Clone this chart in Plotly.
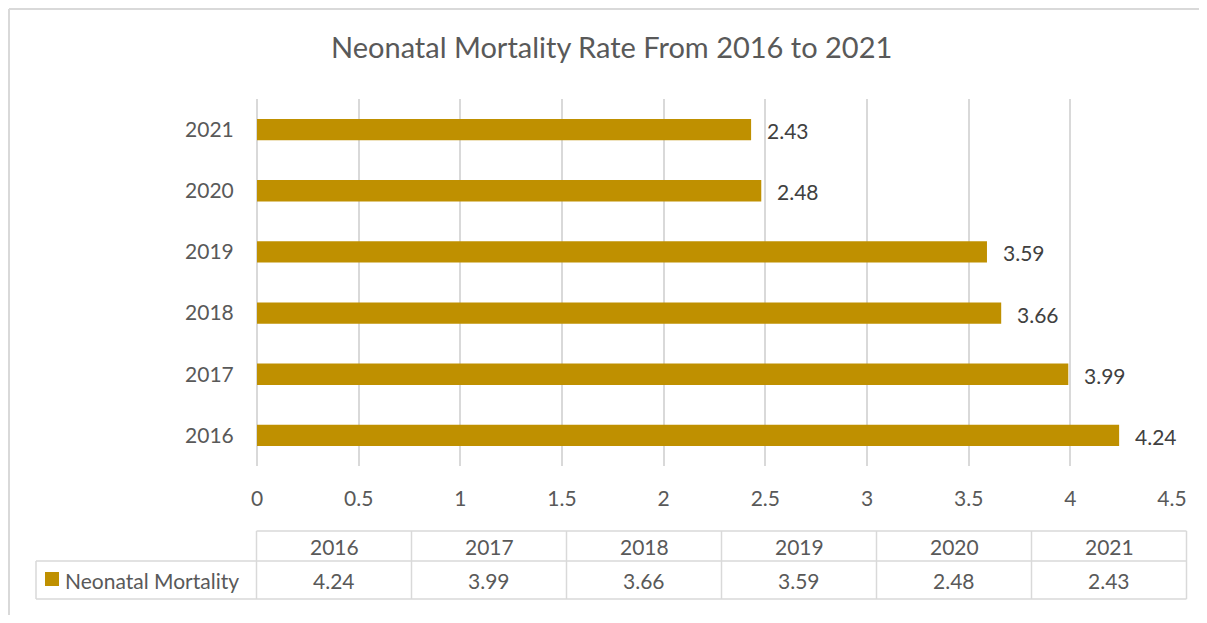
import plotly.graph_objects as go

years = ["2016", "2017", "2018", "2019", "2020", "2021"]
values = [4.24, 3.99, 3.66, 3.59, 2.48, 2.43]
x_ticks = [0, 0.5, 1, 1.5, 2, 2.5, 3, 3.5, 4, 4.5]
x_tick_text = ["0", "0.5", "1", "1.5", "2", "2.5", "3", "3.5", "4", "4.5"]
series_name = "Neonatal Mortality"
title_text = "Neonatal Mortality Rate From 2016 to 2021"

# the page body has an 8px margin, so the figure is drawn 8px smaller
OFF = 8
W, H = 1191, 607
ML, MR, MT, MB = 249, 27, 91, 149
PW = W - ML - MR
PH = H - MT - MB

FONT = "Lato"
TXT = "#595959"
GRID = "#D9D9D9"
BAR = "#BF9000"
FS = 21


def xp(px):
    # reference pixel x -> paper
    return (px - OFF - ML) / PW


def yp(py):
    # reference pixel y -> paper
    return (H - MB - (py - OFF)) / PH


fig = go.Figure()
fig.add_trace(go.Bar(
    x=values, y=years, orientation="h",
    marker=dict(color=BAR, line=dict(width=0)),
    width=0.35, name=series_name, showlegend=False,
    hoverinfo="x+y",
))

annotations = []
# data labels (category positions given by index on the category axis)
for i, v in enumerate(values):
    annotations.append(dict(
        x=v, y=i, xref="x", yref="y", text=f"{v:.2f}", showarrow=False,
        xanchor="left", yanchor="middle", xshift=14, yshift=-1,
        font=dict(family=FONT, size=FS, color="#404040"),
    ))

annotations.append(dict(
    x=xp(611), y=yp(47), xref="paper", yref="paper", text=title_text,
    showarrow=False, xanchor="center", yanchor="middle",
    font=dict(family=FONT, size=29, color=TXT),
))

# data table
t_left = 256.5
t_right = 1186.5
leg_left = 36
row_top, row_mid, row_bot = 531, 561, 599
col_w = (t_right - t_left) / len(years)
shapes = []
lc = dict(color=GRID, width=1.5)


def hline(y, x0, x1):
    shapes.append(dict(type="line", xref="paper", yref="paper",
                       x0=xp(x0), x1=xp(x1), y0=yp(y), y1=yp(y), line=lc))


def vline(x, y0, y1):
    shapes.append(dict(type="line", xref="paper", yref="paper",
                       x0=xp(x), x1=xp(x), y0=yp(y0), y1=yp(y1), line=lc))


hline(row_top, t_left, t_right)
hline(row_mid, leg_left, t_right)
hline(row_bot, leg_left, t_right)
vline(leg_left, row_mid, row_bot)
for i in range(len(years) + 1):
    vline(t_left + i * col_w, row_top, row_bot)

for i, (yr, v) in enumerate(zip(years, values)):
    cx = t_left + (i + 0.5) * col_w
    annotations.append(dict(
        x=xp(cx), y=yp((row_top + row_mid) / 2), xref="paper", yref="paper",
        text=yr, showarrow=False, xanchor="center", yanchor="middle",
        font=dict(family=FONT, size=FS, color=TXT)))
    annotations.append(dict(
        x=xp(cx), y=yp((row_mid + row_bot) / 2), xref="paper", yref="paper",
        text=f"{v:.2f}", showarrow=False, xanchor="center", yanchor="middle",
        font=dict(family=FONT, size=FS, color=TXT)))

shapes.append(dict(type="rect", xref="paper", yref="paper",
                   x0=xp(45), x1=xp(59), y0=yp(572), y1=yp(586),
                   fillcolor=BAR, line=dict(width=0)))
annotations.append(dict(
    x=xp(63), y=yp(580), xref="paper", yref="paper", text=series_name,
    showarrow=False, xanchor="left", yanchor="middle",
    font=dict(family=FONT, size=FS, color=TXT)))

# chart border (top & left visible)
shapes.append(dict(type="line", xref="paper", yref="paper",
                   x0=xp(OFF + 1), x1=xp(1215), y0=yp(OFF + 1), y1=yp(OFF + 1),
                   line=dict(color=GRID, width=2)))
shapes.append(dict(type="line", xref="paper", yref="paper",
                   x0=xp(OFF + 1), x1=xp(OFF + 1), y0=yp(OFF + 1), y1=yp(640),
                   line=dict(color=GRID, width=2)))

fig.update_layout(
    width=W, height=H,
    margin=dict(l=ML, r=MR, t=MT, b=MB, pad=0),
    paper_bgcolor="white", plot_bgcolor="white",
    font=dict(family=FONT, color=TXT),
    xaxis=dict(range=[0, 4.5], tickvals=x_ticks, ticktext=x_tick_text,
               showgrid=True, gridcolor=GRID, gridwidth=1.5,
               zeroline=True, zerolinecolor=GRID, zerolinewidth=1.5,
               showline=False, ticks="outside", ticklen=14,
               tickcolor="rgba(0,0,0,0)",
               tickfont=dict(family=FONT, size=FS, color=TXT)),
    yaxis=dict(type="category", categoryorder="array", categoryarray=years,
               range=[-0.5, len(years) - 0.5],
               showgrid=False, zeroline=False, showline=False,
               ticks="outside", ticklen=18, tickcolor="rgba(0,0,0,0)",
               tickfont=dict(family=FONT, size=FS, color=TXT)),
    shapes=shapes, annotations=annotations,
)

fig.write_html("out.html")
